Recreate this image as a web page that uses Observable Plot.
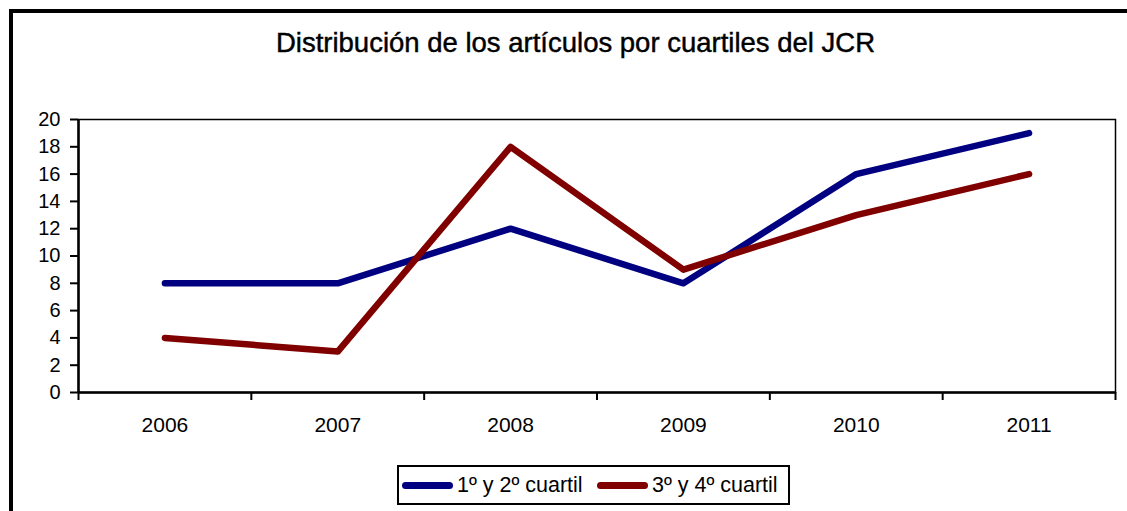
<!DOCTYPE html>
<html>
<head>
<meta charset="utf-8">
<script src="https://cdn.jsdelivr.net/npm/d3@7"></script>
<script src="https://cdn.jsdelivr.net/npm/@observablehq/plot@0.6"></script>
<style>
  html, body { margin: 0; padding: 0; background: #fff; overflow: hidden; }
  #wrap { position: relative; width: 1127px; height: 511px; overflow: hidden; font-family: "Liberation Sans", Arial, Helvetica, sans-serif; color: #000; }
  #outer { position: absolute; left: 9px; top: 9px; width: 1300px; height: 700px; border-left: 4.5px solid #000; border-top: 4.5px solid #000; box-sizing: border-box; }
  #title { position: absolute; left: 0; width: 1151px; top: 28px; text-align: center; font-size: 27.5px; line-height: 30px; white-space: nowrap; -webkit-text-stroke: 0.45px #000; }
  #chart { position: absolute; left: 0; top: 100px; }
  #legend { position: absolute; left: 397px; top: 465px; width: 393px; height: 40px; border: 2px solid #000; box-sizing: border-box; font-size: 21.5px; white-space: nowrap; }
  .sw { position: absolute; top: 15px; width: 51px; height: 6.5px; border-radius: 3.5px; }
  .lab { position: absolute; top: 5px; line-height: 26px; }
</style>
</head>
<body>
<div id="wrap">
  <div id="outer"></div>
  <div id="title">Distribución de los artículos por cuartiles del JCR</div>
  <div id="chart"></div>
  <div id="legend"></div>
</div>
<script>
const years = [2006, 2007, 2008, 2009, 2010, 2011];
const q12 = [8, 8, 12, 8, 16, 19];
const q34 = [4, 3, 18, 9, 13, 16];
const seriesNames = ["1º y 2º cuartil", "3º y 4º cuartil"];
const seriesColors = ["#000080", "#800000"];
const yTicks = [0, 2, 4, 6, 8, 10, 12, 14, 16, 18, 20];

const yearBounds = years.map(y => y - 0.5).concat([years[years.length - 1] + 0.5]);
const data = years.flatMap((y, i) => [
  {year: y, value: q12[i], series: seriesNames[0]},
  {year: y, value: q34[i], series: seriesNames[1]}
]);

const chart = Plot.plot({
  width: 1127,
  height: 342,
  marginTop: 19,
  marginBottom: 50,
  marginLeft: 78,
  marginRight: 12,
  style: {fontFamily: '"Liberation Sans", Arial, Helvetica, sans-serif', fontSize: "20px", color: "#000", background: "transparent", overflow: "visible"},
  x: {domain: [yearBounds[0], yearBounds[yearBounds.length - 1]]},
  y: {domain: [0, 20]},
  color: {domain: seriesNames, range: seriesColors},
  marks: [
    Plot.frame({stroke: "#000", strokeWidth: 1.5}),
    Plot.axisY({ticks: yTicks, tickSize: 8, tickPadding: 10, label: null, strokeWidth: 2, tickFormat: d => String(d)}),
    Plot.axisX({ticks: years, tickSize: 0, tickPadding: 25, tickFormat: d => String(d), label: null, fontSize: 21}),
    Plot.axisX({ticks: yearBounds, tickSize: 8, tickFormat: () => "", label: null, strokeWidth: 2}),
    Plot.ruleX([yearBounds[0]], {stroke: "#000", strokeWidth: 2.5}),
    Plot.ruleY([0], {stroke: "#000", strokeWidth: 2.5}),
    Plot.line(data, {x: "year", y: "value", stroke: "series", z: "series", strokeWidth: 6.5, strokeLinecap: "round", strokeLinejoin: "round"})
  ]
});
document.getElementById("chart").appendChild(chart);

const legend = document.getElementById("legend");
const swLeft = [3, 198];
const labLeft = [58, 253];
seriesNames.forEach((name, i) => {
  const sw = document.createElement("span");
  sw.className = "sw";
  sw.style.left = swLeft[i] + "px";
  sw.style.background = seriesColors[i];
  const label = document.createElement("span");
  label.className = "lab";
  label.style.left = labLeft[i] + "px";
  label.textContent = name;
  legend.appendChild(sw);
  legend.appendChild(label);
});
</script>
</body>
</html>
